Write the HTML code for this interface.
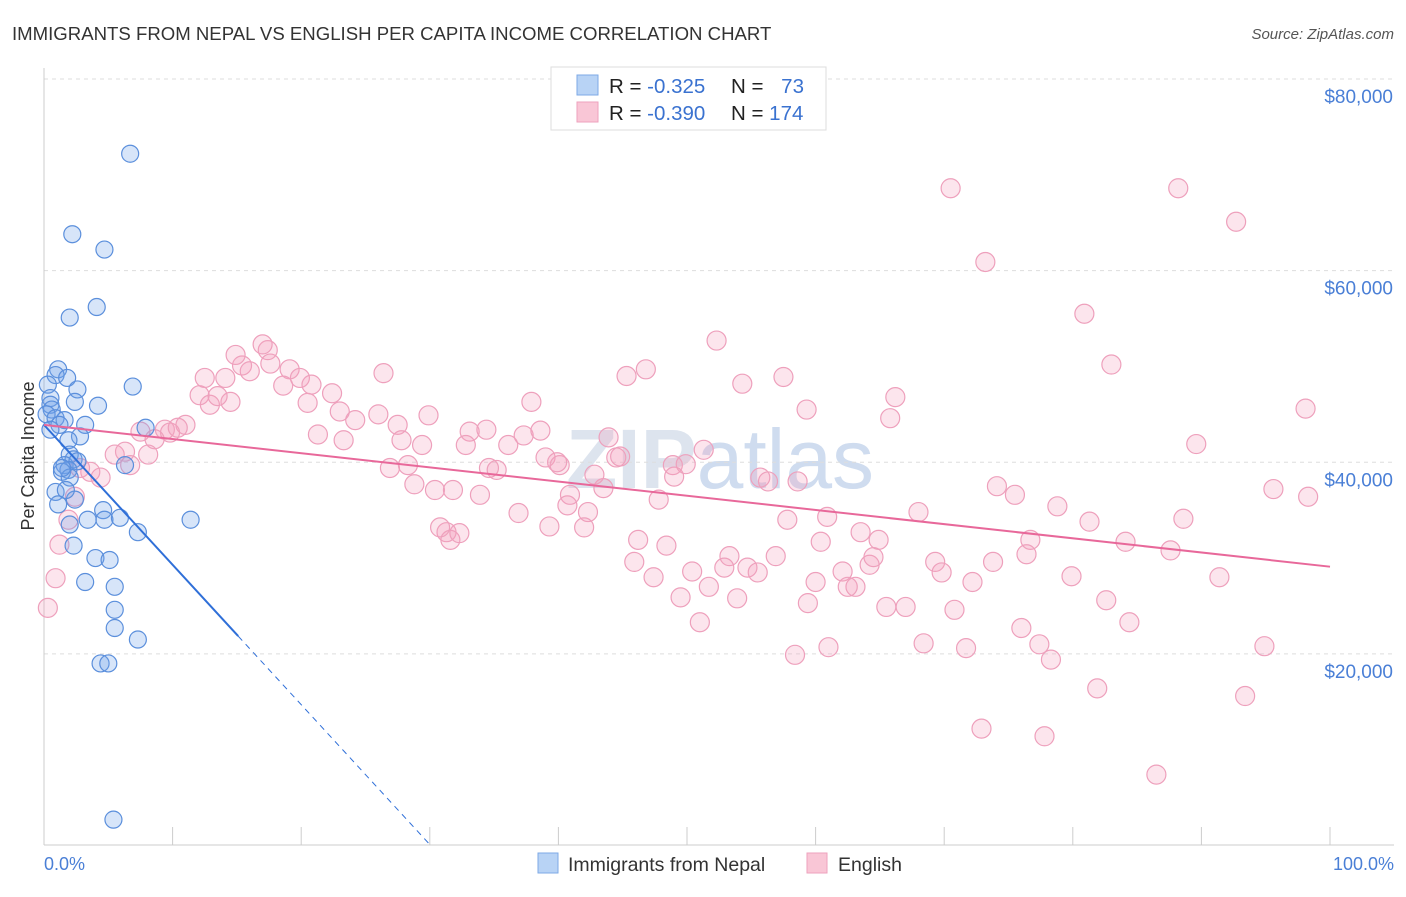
<!DOCTYPE html>
<html><head><meta charset="utf-8"><style>
body{margin:0;background:#fff;font-family:"Liberation Sans",sans-serif;}
svg text{font-family:"Liberation Sans",sans-serif;}
</style></head><body>
<svg id="chart" width="1406" height="892" xmlns="http://www.w3.org/2000/svg">
<text x="12" y="40" font-size="18.6" fill="#333">IMMIGRANTS FROM NEPAL VS ENGLISH PER CAPITA INCOME CORRELATION CHART</text>
<text x="1394" y="39" font-size="15" font-style="italic" fill="#555" text-anchor="end">Source: ZipAtlas.com</text>
<text x="720" y="488" font-size="84" fill="#dde4ee" text-anchor="middle" font-weight="bold">ZIP<tspan font-weight="normal" fill="#cfdcef">atlas</tspan></text>
<g id="grid"></g><g id="axes"></g><g id="pts"></g><g id="trends"></g>
<text transform="translate(34,456) rotate(-90)" font-size="18" fill="#333" text-anchor="middle">Per Capita Income</text>
<text x="44" y="870" font-size="18" fill="#4a7fd6">0.0%</text>
<text x="1394" y="870" font-size="18" fill="#4a7fd6" text-anchor="end">100.0%</text>
<g>
<rect x="551" y="67" width="275" height="63" fill="#fff" stroke="#ddd"/>
<rect x="577" y="75" width="21" height="20" fill="#b8d3f5" stroke="#7eaae6"/>
<rect x="577" y="102" width="21" height="20" fill="#f9c6d6" stroke="#eea2bd"/>
<text x="609" y="93" font-size="20.5" fill="#222">R = <tspan fill="#3a72d0">-0.325</tspan></text>
<text x="731" y="93" font-size="20.5" fill="#222">N = <tspan fill="#3a72d0" dx="12">73</tspan></text>
<text x="609" y="120" font-size="20.5" fill="#222">R = <tspan fill="#3a72d0">-0.390</tspan></text>
<text x="731" y="120" font-size="20.5" fill="#222">N = <tspan fill="#3a72d0">174</tspan></text>
</g>
<g>
<rect x="538" y="853" width="20" height="20" fill="#b8d3f5" stroke="#7eaae6"/>
<text x="568" y="871" font-size="19.5" fill="#333">Immigrants from Nepal</text>
<rect x="807" y="853" width="20" height="20" fill="#f9c6d6" stroke="#eea2bd"/>
<text x="838" y="871" font-size="19.5" fill="#333">English</text>
</g>
</svg>
<script>
const yTicks=[20000,40000,60000,80000];
const yTickLabels=["$20,000","$40,000","$60,000","$80,000"];
const xTicks=[0,10,20,30,40,50,60,70,80,90,100];
const nepalX=[6.7,2.2,4.7,4.1,2.0,1.1,0.9,0.3,1.8,2.6,6.9,0.5,2.4,4.2,0.5,0.6,0.2,0.9,1.6,1.2,3.2,7.9,2.8,1.9,2.0,2.3,1.6,2.6,1.9,6.3,1.4,2.0,0.9,2.4,1.1,4.6,3.4,4.7,5.9,11.4,2.0,7.3,2.3,4.0,5.1,3.2,5.5,5.5,5.5,7.3,4.4,5.0,5.4,0.5,1.4,1.7];
const nepalY=[72.2,63.8,62.2,56.2,55.1,49.7,49.1,48.1,48.8,47.6,47.9,46.7,46.3,45.9,46.0,45.5,45.0,44.6,44.4,43.9,43.9,43.6,42.7,42.3,40.8,40.3,39.7,40.1,39.2,39.7,39.0,38.4,36.9,36.1,35.6,35.0,34.0,34.0,34.2,34.0,33.5,32.7,31.3,30.0,29.8,27.5,27.0,24.6,22.7,21.5,19.0,19.0,2.7,43.4,39.4,37.1];
const englishX=[70.5,88.2,92.7,73.2,80.9,52.3,83.0,98.1,66.2,65.8,59.3,57.5,54.3,46.8,45.3,37.9,26.4,17.4,17.0,15.4,14.1,16.0,19.1,19.9,18.6,20.8,22.4,20.5,12.1,12.9,14.5,13.5,11.0,9.4,9.8,8.6,7.5,6.3,5.5,4.4,3.6,2.8,2.4,1.9,1.2,0.9,0.3,21.3,23.0,24.2,23.3,26.0,27.5,27.8,29.9,29.4,33.1,34.4,36.1,37.3,38.6,32.8,39.0,40.1,28.3,26.9,28.8,30.4,31.8,33.9,34.6,35.2,36.9,39.3,40.9,40.7,42.3,42.0,43.5,42.8,43.9,44.5,44.8,39.9,48.9,49.9,51.3,49.0,47.8,46.2,48.4,45.9,47.4,49.5,50.4,51.7,51.0,53.3,52.9,53.9,54.7,55.5,56.9,57.8,55.7,56.3,58.6,59.4,60.0,58.4,61.0,60.9,60.4,62.1,63.1,62.5,63.5,64.2,64.9,64.5,65.5,67.0,68.0,68.4,69.3,69.8,70.8,71.7,72.2,72.9,73.8,74.1,75.5,76.0,76.7,76.4,77.4,78.3,78.8,79.9,81.3,81.9,82.6,84.1,84.4,77.8,86.5,87.6,88.6,89.6,91.4,94.9,93.4,95.6,98.3,31.3,31.6,32.3,30.8,8.1,10.4,6.7,17.6,14.9,12.5];
const englishY=[68.6,68.6,65.1,60.9,55.5,52.7,50.2,45.6,46.8,44.6,45.5,48.9,48.2,49.7,49.0,46.3,49.3,51.7,52.3,50.1,48.8,49.5,49.7,48.8,48.0,48.1,47.2,46.2,47.0,46.0,46.3,46.9,43.9,43.4,43.1,42.4,43.2,41.1,40.8,38.4,39.0,39.4,36.4,34.0,31.4,27.9,24.8,42.9,45.3,44.4,42.3,45.0,43.9,42.3,44.9,41.8,43.2,43.4,41.8,42.8,43.3,41.8,40.5,39.7,39.7,39.4,37.7,37.1,37.1,36.6,39.4,39.2,34.7,33.3,36.6,35.5,34.8,33.2,37.3,38.7,42.6,40.5,40.6,40.0,39.7,39.8,41.3,38.5,36.1,31.9,31.3,29.6,28.0,25.9,28.6,27.0,23.3,30.2,29.0,25.8,29.0,28.5,30.2,34.0,38.4,38.0,38.0,25.3,27.5,19.9,20.7,34.3,31.7,28.6,27.0,27.0,32.7,29.3,31.9,30.1,24.9,24.9,34.8,21.1,29.6,28.5,24.6,20.6,27.5,12.2,29.6,37.5,36.6,22.7,31.9,30.4,21.0,19.4,35.4,28.1,33.8,16.4,25.6,31.7,23.3,11.4,7.4,30.8,34.1,41.9,28.0,20.8,15.6,37.2,36.4,32.7,31.9,32.6,33.2,40.8,43.6,39.7,50.3,51.2,48.8];
const nepalTrend=[43.9,-1.46];
const englishTrend=[43.9,-0.148];

const NS="http://www.w3.org/2000/svg";
const X0=44,X1=1330,YB=845.5,YT=79;
function sx(p){return X0+(X1-X0)*p/100;}
function sy(v){return YB-(YB-YT)*v/80000;}
function mk(tag,attrs,parent){const e=document.createElementNS(NS,tag);for(const k in attrs)e.setAttribute(k,attrs[k]);parent.appendChild(e);return e;}
const grid=document.getElementById('grid'),axes=document.getElementById('axes'),pts=document.getElementById('pts'),tr=document.getElementById('trends');
yTicks.forEach((t,i)=>{
  const l=mk('line',{x1:44,x2:1394,y1:sy(t),y2:sy(t),stroke:'#ddd','stroke-dasharray':'4,4'},grid);
  
  
  const tx=mk('text',{x:1393,y:sy(t)+24,'font-size':19,fill:'#4a7fd6','text-anchor':'end'},grid);
  tx.textContent=yTickLabels[i];
  
  
});
const ax=mk('line',{x1:44,x2:1394,y1:845,y2:845,stroke:'#ccc'},axes);


const ay=mk('line',{x1:44,x2:44,y1:68,y2:845,stroke:'#ccc'},axes);


xTicks.forEach(t=>{
  const l=mk('line',{x1:sx(t),x2:sx(t),y1:827,y2:845,stroke:'#ccc'},axes);
  
  
});
englishX.forEach((x,i)=>{
  const c=mk('circle',{cx:sx(x),cy:sy(englishY[i]*1000),r:9.5,fill:'rgba(244,160,190,0.28)',stroke:'#eea0bc','stroke-width':1.2},pts);
  
  
});
nepalX.forEach((x,i)=>{
  const c=mk('circle',{cx:sx(x),cy:sy(nepalY[i]*1000),r:8.5,fill:'rgba(110,160,235,0.28)',stroke:'#5b8fdc','stroke-width':1.2},pts);
  
  
});
function tv(t,x){return (t[0]+t[1]*x)*1000;}
const bEnd=15.1, bZero=-nepalTrend[0]/nepalTrend[1];
const b1=mk('line',{x1:sx(0),y1:sy(tv(nepalTrend,0)),x2:sx(bEnd),y2:sy(tv(nepalTrend,bEnd)),stroke:'#2f6fd8','stroke-width':2},tr);


const b2=mk('line',{x1:sx(bEnd),y1:sy(tv(nepalTrend,bEnd)),x2:sx(bZero),y2:sy(0),stroke:'#2f6fd8','stroke-width':1,'stroke-dasharray':'6,5'},tr);


const p1=mk('line',{x1:sx(0),y1:sy(tv(englishTrend,0)),x2:sx(100),y2:sy(tv(englishTrend,100)),stroke:'#e8689a','stroke-width':2},tr);


</script>
</body></html>
